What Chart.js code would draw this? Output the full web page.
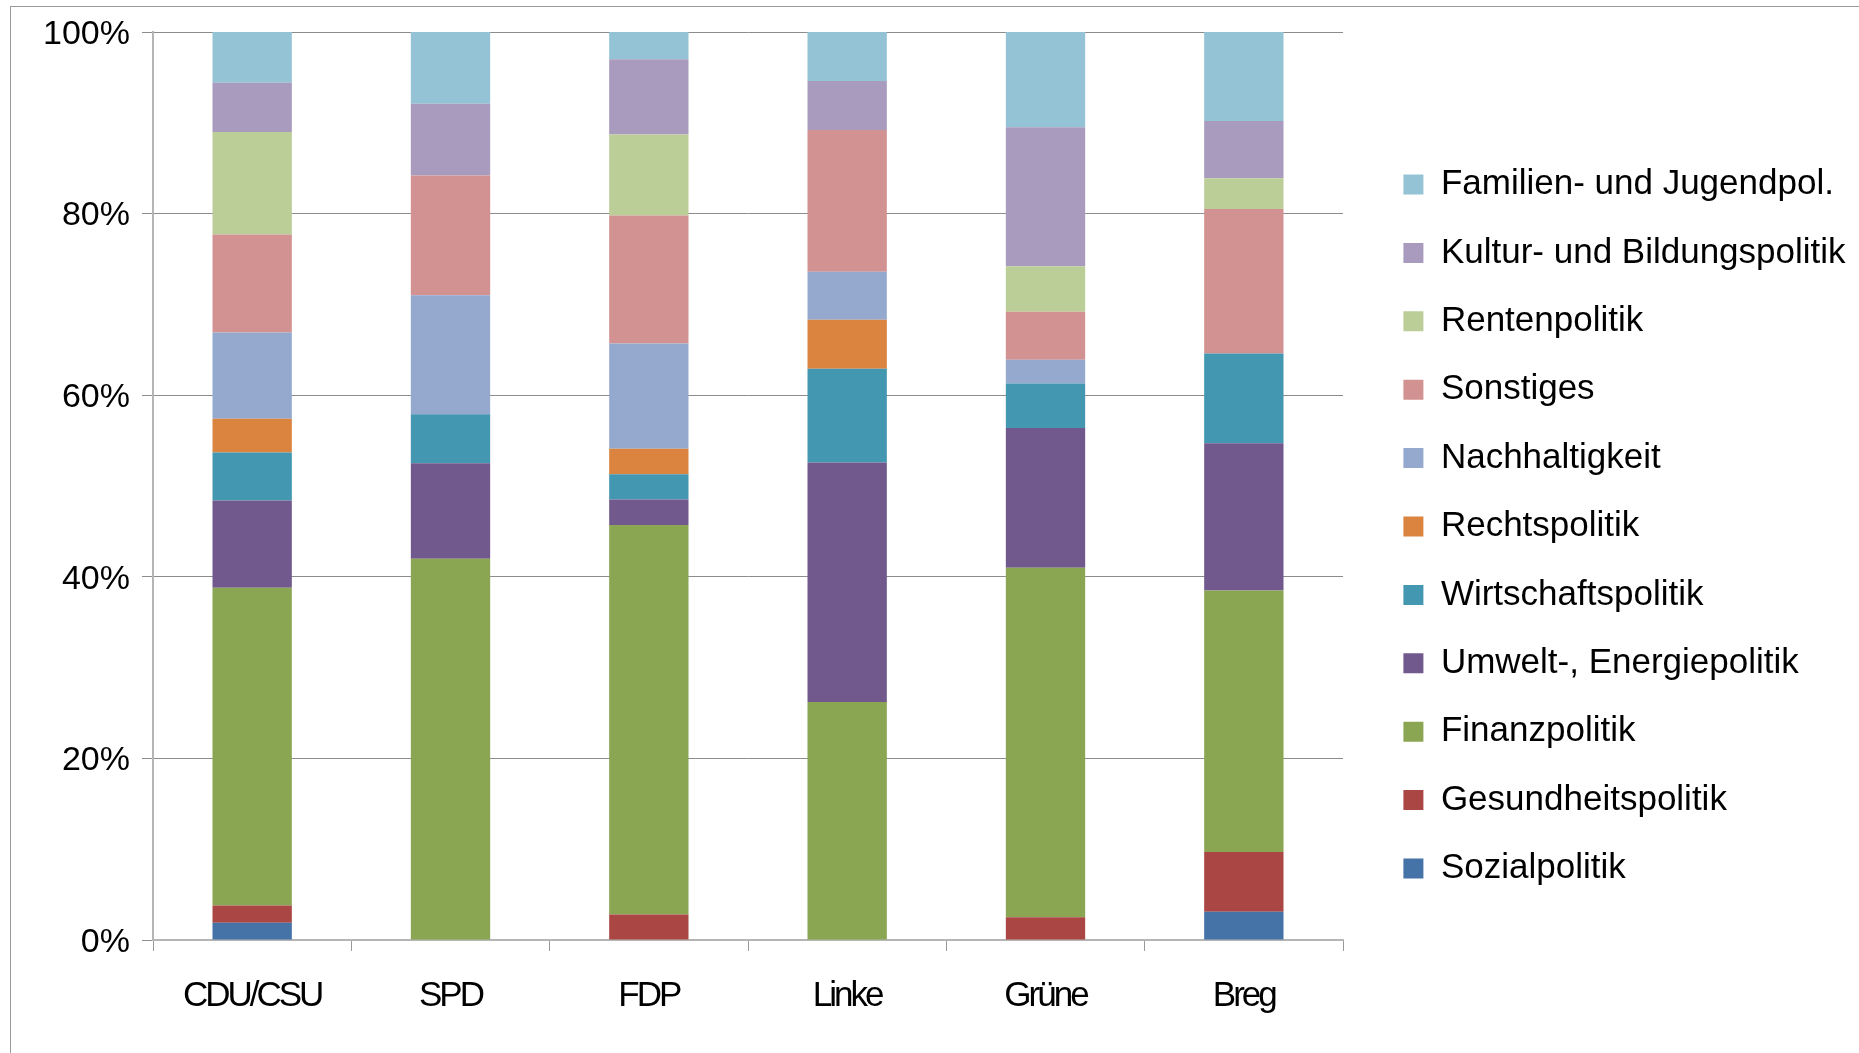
<!DOCTYPE html>
<html lang="de">
<head>
<meta charset="utf-8">
<title>Themen nach Partei</title>
<script src="https://cdn.jsdelivr.net/npm/chart.js@4.4.1/dist/chart.umd.min.js"></script>
<style>
    html, body { margin: 0; padding: 0; background: #fff; overflow: hidden; }
    #wrap { position: relative; width: 1859px; height: 1053px; }
    #frame { position: absolute; left: 10px; top: 6px; width: 1900px; height: 1100px; border: 1px solid #9a9a9a; }
    #chart { position: absolute; left: 0; top: 0; }
</style>
</head>
<body>
<div id="wrap">
    <div id="frame"></div>
    <canvas id="chart" width="1859" height="1053"></canvas>
</div>
<script>
// Categories (parties)
const parties = ['CDU/CSU', 'SPD', 'FDP', 'Linke', 'Grüne', 'Breg'];

// Shares in percent, bottom of the stack first
const sozialpolitik      = [1.9, 0, 0, 0, 0, 3.1];
const gesundheitspolitik = [1.9, 0, 2.8, 0, 2.5, 6.6];
const finanzpolitik      = [35.0, 42.0, 42.9, 26.2, 38.5, 28.8];
const umweltEnergie      = [9.6, 10.5, 2.8, 26.4, 15.4, 16.2];
const wirtschaftspolitik = [5.3, 5.4, 2.8, 10.3, 4.9, 9.9];
const rechtspolitik      = [3.7, 0, 2.8, 5.4, 0, 0];
const nachhaltigkeit     = [9.5, 13.1, 11.6, 5.3, 2.6, 0];
const sonstiges          = [10.8, 13.2, 14.1, 15.6, 5.3, 15.9];
const rentenpolitik      = [11.3, 0, 8.9, 0, 5.0, 3.4];
const kulturBildung      = [5.4, 7.9, 8.3, 5.4, 15.3, 6.3];
const familienJugend     = [5.7, 7.9, 3.0, 5.4, 10.5, 9.8];

// Y axis ticks
const yTicks = [0, 20, 40, 60, 80, 100];

// wrap a scale's label drawing to tweak spacing / offset
function tweakLabels(scale, spacing, dy) {
    if (scale.$tweaked) return;
    const drawLabels = scale.drawLabels;
    scale.drawLabels = function (area) {
        this.ctx.save();
        this.ctx.letterSpacing = spacing;
        this.ctx.translate(0, dy);
        drawLabels.call(this, area);
        this.ctx.restore();
    };
    scale.$tweaked = true;
}

document.addEventListener('DOMContentLoaded', function () {
    const series = [
        { label: 'Sozialpolitik', data: sozialpolitik, color: '#4572a7' },
        { label: 'Gesundheitspolitik', data: gesundheitspolitik, color: '#aa4745' },
        { label: 'Finanzpolitik', data: finanzpolitik, color: '#8aa652' },
        { label: 'Umwelt-, Energiepolitik', data: umweltEnergie, color: '#72598d' },
        { label: 'Wirtschaftspolitik', data: wirtschaftspolitik, color: '#4397b0' },
        { label: 'Rechtspolitik', data: rechtspolitik, color: '#db843f' },
        { label: 'Nachhaltigkeit', data: nachhaltigkeit, color: '#95a9cf' },
        { label: 'Sonstiges', data: sonstiges, color: '#d29291' },
        { label: 'Rentenpolitik', data: rentenpolitik, color: '#bbce98' },
        { label: 'Kultur- und Bildungspolitik', data: kulturBildung, color: '#a99bbd' },
        { label: 'Familien- und Jugendpol.', data: familienJugend, color: '#93c3d4' }
    ];

    const fontFamily = '"Liberation Sans", Arial, sans-serif';

    const ctx = document.getElementById('chart').getContext('2d');
    new Chart(ctx, {
        type: 'bar',
        data: {
            labels: parties,
            datasets: series.map(s => ({
                label: s.label,
                data: s.data,
                backgroundColor: s.color,
                borderWidth: 0,
                barPercentage: 0.8,
                categoryPercentage: 0.5
            }))
        },
        options: {
            responsive: false,
            animation: false,
            layout: { padding: 0 },
            plugins: {
                tooltip: { enabled: false },
                legend: {
                    position: 'right',
                    reverse: true,
                    maxWidth: 700,
                    labels: {
                        boxWidth: 20,
                        boxHeight: 20,
                        padding: 33.4,
                        color: '#000',
                        font: { family: fontFamily, size: 35 }
                    }
                }
            },
            scales: {
                x: {
                    stacked: true,
                    grid: {
                        offset: true,
                        drawOnChartArea: false,
                        drawTicks: true,
                        tickLength: 11,
                        color: '#9a9a9a'
                    },
                    border: { color: '#b5b5b5', width: 2 },
                    ticks: {
                        padding: 24,
                        color: '#000',
                        maxRotation: 0,
                        font: { family: fontFamily, size: 35 }
                    },
                    afterFit: function (scale) {
                        scale.height = 113;
                        scale.paddingRight = 516; // keeps the plot area clear of the legend
                    },
                    afterUpdate: function (scale) {
                        // party names are set a little narrower in the original
                        tweakLabels(scale, '-3px', 0);
                    }
                },
                y: {
                    stacked: true,
                    min: 0,
                    max: 100,
                    afterBuildTicks: function (scale) {
                        scale.ticks = yTicks.map(v => ({ value: v }));
                    },
                    grid: {
                        color: '#8c8c8c',
                        lineWidth: 1,
                        drawTicks: true,
                        tickLength: 11
                    },
                    border: { color: '#b5b5b5', width: 2 },
                    ticks: {
                        padding: 12,
                        color: '#000',
                        font: { family: fontFamily, size: 34 },
                        callback: value => value + '%'
                    },
                    afterFit: function (scale) {
                        scale.width = 153;
                        scale.paddingTop = 32;
                    },
                    afterUpdate: function (scale) {
                        tweakLabels(scale, '0px', 2.5);
                    }
                },
                gap: {
                    // empty spacer between plot and legend
                    type: 'linear',
                    position: 'right',
                    display: true,
                    grid: { display: false, drawTicks: false },
                    border: { display: false },
                    ticks: { display: false },
                    afterFit: function (scale) {
                        scale.width = 27;
                    }
                }
            }
        }
    });
});
</script>
</body>
</html>
